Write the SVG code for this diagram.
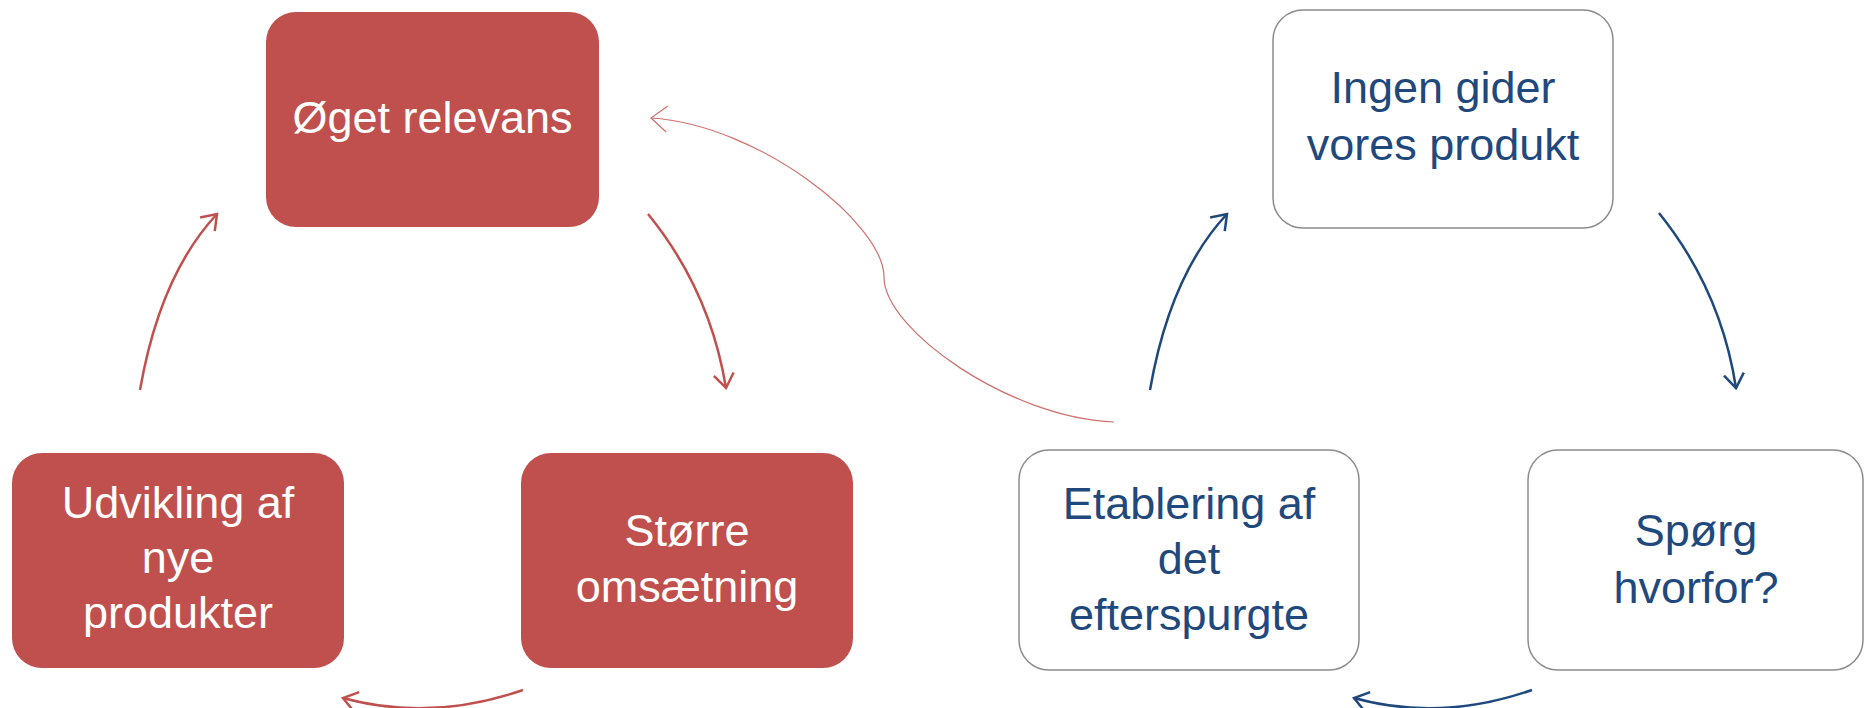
<svg xmlns="http://www.w3.org/2000/svg" width="1865" height="708" viewBox="0 0 1865 708">
<style>
.red{fill:#C0504D;}
.white{fill:#FFFFFF;stroke:#8C8C8C;stroke-width:1.5;}
.t{font-family:"Liberation Sans",Arial,sans-serif;font-size:45px;text-anchor:middle;}
.tw{fill:#FFFFFF;}
.tb{fill:#1F497D;}
.cr{fill:none;stroke:#C0504D;stroke-width:2.5;}
.cb{fill:none;stroke:#1F497D;stroke-width:2.5;}
.cthin{fill:none;stroke:#D0706D;stroke-width:1.2;}
</style>
<defs>
<marker id="ar" markerUnits="userSpaceOnUse" markerWidth="40" markerHeight="40" refX="0" refY="0" viewBox="-20 -20 40 40" orient="auto" overflow="visible">
<path d="M-14,-10 L0,0 L-14,10" fill="none" stroke="#C0504D" stroke-width="2.5"/>
</marker>
<marker id="ab" markerUnits="userSpaceOnUse" markerWidth="40" markerHeight="40" refX="0" refY="0" viewBox="-20 -20 40 40" orient="auto" overflow="visible">
<path d="M-14,-10 L0,0 L-14,10" fill="none" stroke="#1F497D" stroke-width="2.5"/>
</marker>
<marker id="at" markerUnits="userSpaceOnUse" markerWidth="40" markerHeight="40" refX="0" refY="0" viewBox="-20 -20 40 40" orient="auto" overflow="visible">
<path d="M-16,-13 L0,0 L-16,13" fill="none" stroke="#D0706D" stroke-width="1.2"/>
</marker>
</defs>
<rect width="1865" height="708" fill="#FFFFFF"/>
<g id="connectors">
<path class="cr" d="M140,390 Q160,275 217,214" marker-end="url(#ar)"/>
<path class="cr" d="M648,214 Q710,290 726,388" marker-end="url(#ar)"/>
<path class="cr" d="M523,690 Q430,722 343,698" marker-end="url(#ar)"/>
<path class="cb" d="M1150,390 Q1170,275 1227,214" marker-end="url(#ab)"/>
<path class="cb" d="M1659,213 Q1721,290 1736,388" marker-end="url(#ab)"/>
<path class="cb" d="M1532,690 Q1440,722 1354,698" marker-end="url(#ab)"/>
<path class="cthin" d="M1114,422 C1010,418 884,330 884,277 C884,224 760,125 651,118" marker-end="url(#at)"/>
</g>
<g id="node-oget">
<rect class="red" x="266" y="12" width="333" height="215" rx="30"/>
<text class="t tw" x="432.5" y="133">Øget relevans</text>
</g>
<g id="node-udvikling">
<rect class="red" x="12" y="453" width="332" height="215" rx="30"/>
<text class="t tw" x="178" y="518">Udvikling af</text>
<text class="t tw" x="178" y="573">nye</text>
<text class="t tw" x="178" y="628">produkter</text>
</g>
<g id="node-storre">
<rect class="red" x="521" y="453" width="332" height="215" rx="30"/>
<text class="t tw" x="687" y="546">Større</text>
<text class="t tw" x="687" y="602">omsætning</text>
</g>
<g id="node-ingen">
<rect class="white" x="1273" y="10" width="340" height="218" rx="30"/>
<text class="t tb" x="1443" y="103">Ingen gider</text>
<text class="t tb" x="1443" y="160">vores produkt</text>
</g>
<g id="node-etablering">
<rect class="white" x="1019" y="450" width="340" height="220" rx="30"/>
<text class="t tb" x="1189" y="519">Etablering af</text>
<text class="t tb" x="1189" y="574">det</text>
<text class="t tb" x="1189" y="630">efterspurgte</text>
</g>
<g id="node-sporg">
<rect class="white" x="1528" y="450" width="335" height="220" rx="30"/>
<text class="t tb" x="1696" y="546">Spørg</text>
<text class="t tb" x="1696" y="603">hvorfor?</text>
</g>
</svg>
